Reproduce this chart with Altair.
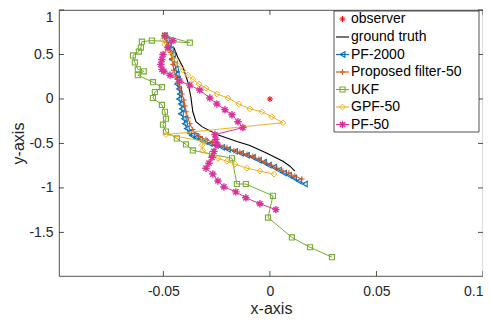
import altair as alt
import pandas as pd

# ---------------- data ----------------
x_ticks = [-0.05, 0, 0.05, 0.1]
y_ticks = [-1.5, -1, -0.5, 0, 0.5, 1]
x_domain = [-0.099, 0.1]
y_domain = [-1.99, 1]

observer_x = [0.0]
observer_y = [0.0]

truth_x = [-0.0451, -0.0432, -0.0408, -0.0385, -0.0371, -0.0362, -0.0347, -0.0319,
           -0.0249, -0.0155, -0.0094, -0.0014, 0.0061, 0.0094, 0.0117]
truth_y = [0.578, 0.467, 0.356, 0.189, 0.022, -0.144, -0.256, -0.311,
           -0.400, -0.478, -0.522, -0.611, -0.700, -0.756, -0.811]

pf2000_x = [-0.0493, -0.0484, -0.0474, -0.0465, -0.0455, -0.0460, -0.0446, -0.0441, -0.0437, -0.0432,
            -0.0437, -0.0427, -0.0423, -0.0427, -0.0418, -0.0413, -0.0418, -0.0404, -0.0399, -0.0390,
            -0.0380, -0.0366, -0.0347, -0.0329, -0.0305, -0.0282, -0.0254, -0.0225, -0.0197, -0.0164,
            -0.0136, -0.0108, -0.0080, -0.0052, -0.0028, -0.0005, 0.0019, 0.0042, 0.0066, 0.0089,
            0.0113, 0.0136, 0.0164]
pf2000_y = [0.711, 0.667, 0.611, 0.556, 0.5, 0.444, 0.389, 0.333, 0.278, 0.222,
            0.167, 0.111, 0.056, 0.0, -0.056, -0.111, -0.167, -0.222, -0.278, -0.333,
            -0.378, -0.411, -0.433, -0.456, -0.478, -0.5, -0.522, -0.544, -0.567, -0.589,
            -0.611, -0.633, -0.656, -0.689, -0.711, -0.744, -0.767, -0.8, -0.833, -0.856,
            -0.889, -0.922, -0.956]

prop_x = [-0.0493, -0.0484, -0.0474, -0.0465, -0.0460, -0.0455, -0.0451, -0.0441, -0.0432, -0.0423,
          -0.0413, -0.0404, -0.0399, -0.0394, -0.0385, -0.0376, -0.0362, -0.0347, -0.0329, -0.0300,
          -0.0268, -0.0235, -0.0202, -0.0169, -0.0141, -0.0108, -0.0080, -0.0052, -0.0023, 0.0005,
          0.0033, 0.0061, 0.0089, 0.0117, 0.0150]
prop_y = [0.711, 0.633, 0.578, 0.522, 0.456, 0.389, 0.322, 0.256, 0.189, 0.122,
          0.056, -0.011, -0.078, -0.144, -0.211, -0.278, -0.344, -0.389, -0.422, -0.456,
          -0.489, -0.522, -0.544, -0.578, -0.6, -0.622, -0.644, -0.678, -0.711, -0.744,
          -0.778, -0.811, -0.833, -0.867, -0.9]

ukf_x = [-0.0493, -0.0376, -0.0554, -0.0601, -0.0606, -0.0615, -0.0643, -0.0634, -0.0620, -0.0592,
         -0.0620, -0.0549, -0.0507, -0.0540, -0.0549, -0.0507, -0.0493, -0.0488, -0.0502, -0.0488,
         -0.0437, -0.0394, -0.0362, -0.0272, -0.0178, -0.0155, -0.0113, 0.0014, -0.0009, 0.0103,
         0.0188, 0.0291]
ukf_y = [0.711, 0.633, 0.656, 0.644, 0.578, 0.533, 0.489, 0.411, 0.333, 0.311,
         0.267, 0.189, 0.133, 0.078, 0.011, -0.067, -0.144, -0.222, -0.289, -0.367,
         -0.444, -0.511, -0.578, -0.622, -0.667, -0.956, -0.956, -1.089, -1.333, -1.556,
         -1.667, -1.778]

gpf_x = [-0.0493, -0.0502, -0.0493, -0.0479, -0.0460, -0.0446, -0.0432, -0.0408, -0.0385, -0.0362,
         -0.0333, -0.0300, -0.0249, -0.0197, -0.0146, -0.0094, -0.0038, 0.0009, 0.0061, -0.0488,
         -0.0305, -0.0319, -0.0315, -0.0268, -0.0244, -0.0202, -0.0164, -0.0108, -0.0047, 0.0019]
gpf_y = [0.711, 0.667, 0.611, 0.556, 0.5, 0.433, 0.378, 0.322, 0.267, 0.222,
         0.167, 0.122, 0.056, 0.011, -0.056, -0.111, -0.144, -0.2, -0.267, -0.4,
         -0.478, -0.522, -0.578, -0.644, -0.667, -0.7, -0.733, -0.778, -0.811, -0.844]

pf50_x = [-0.0493, -0.0455, -0.0479, -0.0502, -0.0507, -0.0512, -0.0507, -0.0498, -0.0469, -0.0423,
          -0.0376, -0.0329, -0.0282, -0.0249, -0.0211, -0.0178, -0.0150, -0.0127, -0.0258, -0.0254,
          -0.0249, -0.0263, -0.0272, -0.0286, -0.0300, -0.0268, -0.0244, -0.0216, -0.0160, -0.0113,
          -0.0047, 0.0028]
pf50_y = [0.711, 0.656, 0.578, 0.5, 0.444, 0.389, 0.333, 0.311, 0.267, 0.2,
          0.156, 0.1, 0.011, -0.056, -0.122, -0.178, -0.256, -0.322, -0.4, -0.456,
          -0.511, -0.589, -0.656, -0.722, -0.778, -0.844, -0.922, -0.989, -1.044, -1.111,
          -1.178, -1.244]

legend_labels = ["observer", "ground truth", "PF-2000", "Proposed filter-50", "UKF", "GPF-50", "PF-50"]

# ---------------- styling ----------------
FONT = "Liberation Sans"
TXT = "#262626"
W, H = 424, 266

PLUS = "M-1,0L1,0M0,-1L0,1"
ASTER = "M-1,0L1,0M0,-1L0,1M-0.7,-0.7L0.7,0.7M-0.7,0.7L0.7,-0.7"

series = [
    # label, xs, ys, color, line?, shape, size, strokeWidth
    ("observer", observer_x, observer_y, "#FF0000", False, ASTER, 36, 1.0),
    ("ground truth", truth_x, truth_y, "#000000", True, None, 0, 0),
    ("PF-2000", pf2000_x, pf2000_y, "#0072BD", True, "triangle-left", 30, 1.1),
    ("Proposed filter-50", prop_x, prop_y, "#D95319", True, PLUS, 32, 1.0),
    ("UKF", ukf_x, ukf_y, "#77AC30", True, "square", 26, 1.1),
    ("GPF-50", gpf_x, gpf_y, "#EDB120", True, "diamond", 34, 1.0),
    ("PF-50", pf50_x, pf50_y, "#D9339A", True, ASTER, 55, 1.4),
]

lbl_expr = "'' + datum.value"
xs = alt.Scale(domain=x_domain, nice=False, zero=False)
ys = alt.Scale(domain=y_domain, nice=False, zero=False)
x_axis = alt.Axis(values=x_ticks, title="x-axis", ticks=False, domain=False, grid=False,
                  labelExpr=lbl_expr, labelPadding=8, titlePadding=2,
                  labelFlush=True, labelFlushOffset=0)
y_axis = alt.Axis(values=y_ticks, title="y-axis", ticks=False, domain=False, grid=False,
                  labelExpr=lbl_expr, labelPadding=6, titlePadding=2,
                  labelFlush=True, labelFlushOffset=0)
X = alt.X("x:Q", scale=xs, axis=x_axis)
Y = alt.Y("y:Q", scale=ys, axis=y_axis)

layers = []

# inward tick marks on all four sides (MATLAB box style)
xt = pd.DataFrame({"x": x_ticks})
yt = pd.DataFrame({"y": y_ticks})
tick_style = dict(color=TXT, strokeWidth=0.8)
layers.append(alt.Chart(xt).mark_rule(**tick_style).encode(x=X, y=alt.value(H - 5), y2=alt.value(H)))
layers.append(alt.Chart(xt).mark_rule(**tick_style).encode(x=X, y=alt.value(0), y2=alt.value(5)))
layers.append(alt.Chart(yt).mark_rule(**tick_style).encode(y=Y, x=alt.value(0), x2=alt.value(5)))
layers.append(alt.Chart(yt).mark_rule(**tick_style).encode(y=Y, x=alt.value(W - 5), x2=alt.value(W)))

for label, sx, sy, color, has_line, shape, size, sw in series:
    df = pd.DataFrame({"x": sx, "y": sy, "i": list(range(len(sx)))})
    if has_line:
        layers.append(alt.Chart(df).mark_line(color=color, strokeWidth=1.1 if label == "ground truth" else 1.0)
                      .encode(x=X, y=Y, order="i:Q"))
    if shape is not None:
        layers.append(alt.Chart(df).mark_point(shape=shape, color=color, filled=False, size=size,
                                               strokeWidth=sw, opacity=1)
                      .encode(x=X, y=Y))

# ---------------- legend (drawn as decoration) ----------------
LX0, LX1, LY0, LY1 = 275, 420, 1, 122
row_y = [9, 27, 44.5, 62, 79.5, 97, 114.5]
dummy = pd.DataFrame({"a": [0]})
layers.append(alt.Chart(dummy).mark_rect(fill="white", stroke=TXT, strokeWidth=0.8)
              .encode(x=alt.value(LX0), x2=alt.value(LX1), y=alt.value(LY0), y2=alt.value(LY1)))
for (label, sx, sy, color, has_line, shape, size, sw), ry, text in zip(series, row_y, legend_labels):
    if has_line:
        layers.append(alt.Chart(dummy).mark_rule(color=color, strokeWidth=1.1)
                      .encode(x=alt.value(277), x2=alt.value(290), y=alt.value(ry)))
    if shape is not None:
        layers.append(alt.Chart(dummy).mark_point(shape=shape, color=color, filled=False, size=size,
                                                  strokeWidth=sw, opacity=1)
                      .encode(x=alt.value(283.5), y=alt.value(ry)))
    layers.append(alt.Chart(dummy).mark_text(align="left", baseline="middle", font=FONT,
                                             fontSize=14, color="#000000")
                  .encode(x=alt.value(292), y=alt.value(ry), text=alt.value(text)))

chart = alt.layer(*layers).properties(
    width=W, height=H,
    autosize=alt.AutoSizeParams(type="none"),
    padding={"left": 51, "top": 2, "right": 0, "bottom": 42},
    background="white",
).configure_view(
    stroke=TXT, strokeWidth=0.8
).configure_axis(
    labelFont=FONT, titleFont=FONT, labelFontSize=14, titleFontSize=16,
    labelColor=TXT, titleColor=TXT, titleFontWeight="normal"
)

chart.save("out.html", embed_options={"renderer": "svg", "actions": False})
